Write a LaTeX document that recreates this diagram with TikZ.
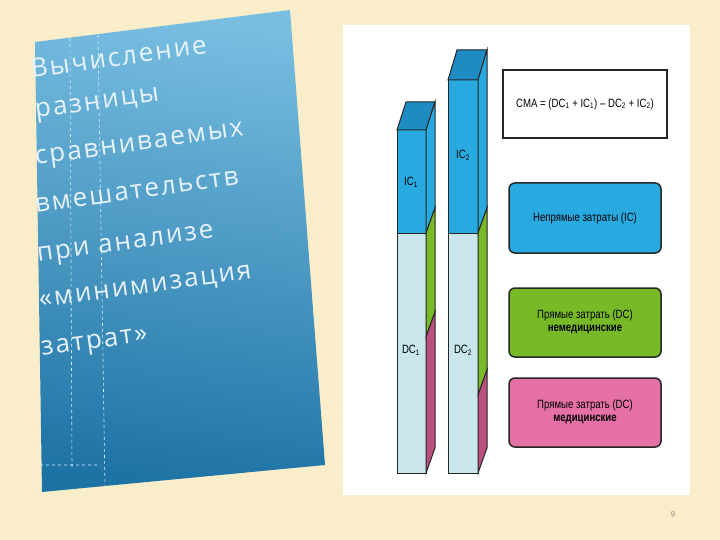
\documentclass[tikz,border=0pt]{standalone}
\usepackage{fontspec}
\setmainfont{Open Sans}
\newfontfamily\spaced[LetterSpace=8]{Open Sans}
\newfontfamily\cond[FakeStretch=0.8]{Liberation Sans}
\definecolor{parch}{RGB}{250,238,202}
\definecolor{pt}{RGB}{120,190,225}
\definecolor{pb}{RGB}{30,115,165}
\definecolor{cblue}{RGB}{40,170,225}
\definecolor{clight}{RGB}{200,230,235}
\definecolor{cgreen}{RGB}{120,185,40}
\definecolor{cpink}{RGB}{228,112,165}
\definecolor{cpinkd}{RGB}{185,80,125}
\definecolor{cblued}{RGB}{30,140,195}
\definecolor{txt}{RGB}{232,242,250}
\begin{document}
\begin{tikzpicture}[x=1pt,y=-1pt,
  ln/.style={anchor=base west,rotate=8,text=txt,font=\spaced\fontsize{26}{26}\selectfont,inner sep=0},
  face/.style={draw=black!85,line width=1pt},
  legend/.style={draw=black!85,line width=1.5pt,rounded corners=6pt},
  lt/.style={font=\cond\fontsize{12}{13}\selectfont,align=center,inner sep=0}]
\useasboundingbox (0,0) rectangle (720,540);
\fill[parch] (0,0) rectangle (720,540);
% left panel
\shade[top color=pt,bottom color=pb,shading angle=-7] (35,42) -- (290,10) -- (325,465) -- (42,492) -- cycle;
\draw[white!85!cyan,dashed,line width=0.6pt] (70,38) -- (72,470) (98,35) -- (105,488) (40,465) -- (100,465);
\node[ln] (l1) at (32,78) {Вычисление};
\node[ln] (l2) at (36,118) {разницы};
\node[ln] (l3) at (36,165) {сравниваемых};
\node[ln] (l4) at (36,213) {вмешательств};
\node[ln] (l5) at (38,262) {при анализе};
\node[ln] (l6) at (40,308) {«минимизация};
\node[ln] (l7) at (42,356) {затрат»};
% white panel
\fill[white] (343,25) rectangle (690,495);
% bar 1
\filldraw[face,fill=clight] (397,233) rectangle (426,473);
\filldraw[face,fill=cblue] (397,130) rectangle (426,233);
\filldraw[face,fill=cblued] (397,130) -- (406,102) -- (435,102) -- (426,130) -- cycle;
\filldraw[face,fill=cblue] (426,130) -- (435,102) -- (435,208) -- (426,233) -- cycle;
\filldraw[face,fill=cgreen] (426,233) -- (435,208) -- (435,312) -- (426,337) -- cycle;
\filldraw[face,fill=cpinkd] (426,337) -- (435,312) -- (435,448) -- (426,473) -- cycle;
\node (ic1) at (411,182) {\cond\fontsize{12}{12}\selectfont IC\textsubscript{1}};
\node (dc1) at (411,350) {\cond\fontsize{12}{12}\selectfont DC\textsubscript{1}};
% bar 2
\filldraw[face,fill=clight] (448,233) rectangle (478,473);
\filldraw[face,fill=cblue] (448,80) rectangle (478,233);
\filldraw[face,fill=cblued] (448,80) -- (457,50) -- (487,50) -- (478,80) -- cycle;
\filldraw[face,fill=cblue] (478,80) -- (487,50) -- (487,208) -- (478,233) -- cycle;
\filldraw[face,fill=cgreen] (478,233) -- (487,208) -- (487,370) -- (478,395) -- cycle;
\filldraw[face,fill=cpinkd] (478,395) -- (487,370) -- (487,448) -- (478,473) -- cycle;
\node (ic2) at (463,155) {\cond\fontsize{12}{12}\selectfont IC\textsubscript{2}};
\node (dc2) at (463,350) {\cond\fontsize{12}{12}\selectfont DC\textsubscript{2}};
% formula
\draw[black!85,line width=1.5pt] (503,70) rectangle (667,138);
\node[lt] (f) at (585,104) {CMA = (DC\textsubscript{1} + IC\textsubscript{1}) – DC\textsubscript{2} + IC\textsubscript{2})};
% legends
\filldraw[legend,fill=cblue] (509,183) rectangle (661,253);
\node[lt] (b1) at (585,218) {Непрямые затраты (IC)};
\filldraw[legend,fill=cgreen] (509,288) rectangle (661,357);
\node[lt] (b2) at (585,322) {Прямые затрать (DC)\\\textbf{немедицинские}};
\filldraw[legend,fill=cpink] (509,378) rectangle (661,447);
\node[lt] (b3) at (585,412) {Прямые затрать (DC)\\\textbf{медицинские}};
\node[text=gray,font=\fontsize{8}{8}\selectfont] (pg) at (673,515) {9};
\end{tikzpicture}
\end{document}
